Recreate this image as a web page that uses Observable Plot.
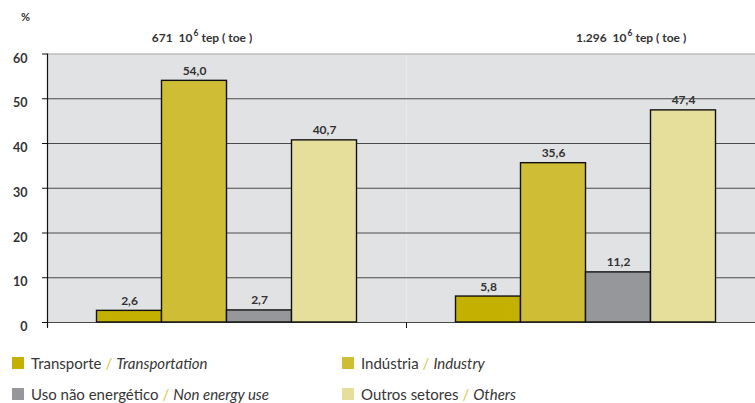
<!DOCTYPE html>
<html>
<head>
<meta charset="utf-8">
<script src="https://cdn.jsdelivr.net/npm/d3@7"></script>
<script src="https://cdn.jsdelivr.net/npm/@observablehq/plot@0.6"></script>
<style>
  html, body { margin: 0; padding: 0; background: #fff; }
  body { width: 755px; height: 403px; overflow: hidden; font-family: Lato, "Open Sans", sans-serif; }
  #chart svg { display: block; }
  .legend { display: grid; grid-template-columns: 330px 330px; padding: 12px 0 0 12px; }
  .item { height: 31px; display: flex; align-items: center; font-size: 15px; color: #363636; font-weight: 400; white-space: nowrap; }
  .sw { width: 12px; height: 12px; margin-right: 7px; flex: none; }
  .sl { color: #d8c64a; margin: 0 4px; }
  .en { font-style: italic; }
</style>
</head>
<body>
<div id="chart"></div>
<div class="legend" id="legend"></div>
<script>
const groups = ["671", "1.296"];
const titleMain = ["671  10", "1.296  10"];
const titleExp = "6";
const titleUnit = "tep ( toe )";
const sectors = ["Transporte", "Indústria", "Uso não energético", "Outros setores"];
const sectorsEn = ["Transportation", "Industry", "Non energy use", "Others"];
const values1 = [2.6, 54.0, 2.7, 40.7];
const values2 = [5.8, 35.6, 11.2, 47.4];
const yTicks = [0, 10, 20, 30, 40, 50, 60];
const colors = ["#c3b000", "#cfbe35", "#96979b", "#e6df9b"];

const data = [];
[values1, values2].forEach((vals, gi) => {
  vals.forEach((v, si) => data.push({group: groups[gi], sector: sectors[si], value: v}));
});
const fmt = v => v.toFixed(1).replace(".", ",");

// title pieces for each group; offset = where "10" ends relative to facet centre
const titleOffsets = [-34.5, 40.5];
const titleMarks = groups.flatMap((g, i) => {
  const d = [{group: g}];
  const common = {fx: "group", frameAnchor: "top", lineAnchor: "middle", fontWeight: "bold", fill: "#333"};
  return [
    Plot.text(d, {...common, text: () => titleMain[i], textAnchor: "end", dx: titleOffsets[i], dy: -15.5, fontSize: 12}),
    Plot.text(d, {...common, text: () => titleExp, textAnchor: "start", dx: titleOffsets[i] + 1, dy: -21, fontSize: 8.5}),
    Plot.text(d, {...common, text: () => titleUnit, textAnchor: "start", dx: titleOffsets[i] + 9, dy: -15.5, fontSize: 12})
  ];
});

const chart = Plot.plot({
  width: 755,
  height: 335,
  marginLeft: 47,
  marginRight: -10,
  marginTop: 53.5,
  marginBottom: 13,
  style: {fontFamily: "Lato, 'Open Sans', sans-serif", background: "transparent"},
  fx: {domain: groups, paddingInner: 0, paddingOuter: 0, axis: null, round: false},
  x: {domain: sectors, paddingInner: 0, paddingOuter: 0.7615, axis: null, round: false},
  y: {domain: [0, 60], axis: null},
  color: {domain: sectors, range: colors},
  marks: [
    Plot.frame({fill: "#e1e2e4", stroke: null}),
    Plot.ruleY(yTicks, {stroke: d => d === 60 ? "#a3a3a3" : "#4a4a4a", strokeWidth: 1.2}),
    Plot.barY(data, {fx: "group", x: "sector", y: "value", fill: "sector", stroke: "#111", strokeWidth: 1.4}),
    Plot.text(data, {fx: "group", x: "sector", y: "value", text: d => fmt(d.value), dy: -6, lineAnchor: "bottom", fontWeight: "bold", fontSize: 12, fill: "#333"}),
    ...titleMarks,
    Plot.axisY(yTicks, {tickSize: 5, fill: "none", stroke: "#111", label: null}),
    Plot.axisY(yTicks, {tickSize: 0, tickPadding: 20, dy: 4.5, fontWeight: "bold", fontSize: 12.5, fill: "#333", label: null}),
    Plot.frame({anchor: "left", facetAnchor: "left", stroke: "#111", strokeWidth: 1.2, insetBottom: -4}),
    Plot.axisFx({anchor: "bottom", tickSize: 6, fill: "none", stroke: "#111", dx: -179.5, label: null}),
    Plot.text(["%"], {text: d => d, frameAnchor: "top-left", facetAnchor: "left", textAnchor: "middle", lineAnchor: "middle", dx: -22, dy: -36.5, fontWeight: "bold", fontSize: 11, fill: "#333"})
  ]
});
document.getElementById("chart").appendChild(chart);

const legend = document.getElementById("legend");
const order = [0, 1, 2, 3];
order.forEach(i => {
  const item = document.createElement("div");
  item.className = "item";
  item.innerHTML = `<span class="sw" style="background:${colors[i]}"></span><span>${sectors[i]}</span><span class="sl">/</span><span class="en">${sectorsEn[i]}</span>`;
  legend.appendChild(item);
});
</script>
</body>
</html>
